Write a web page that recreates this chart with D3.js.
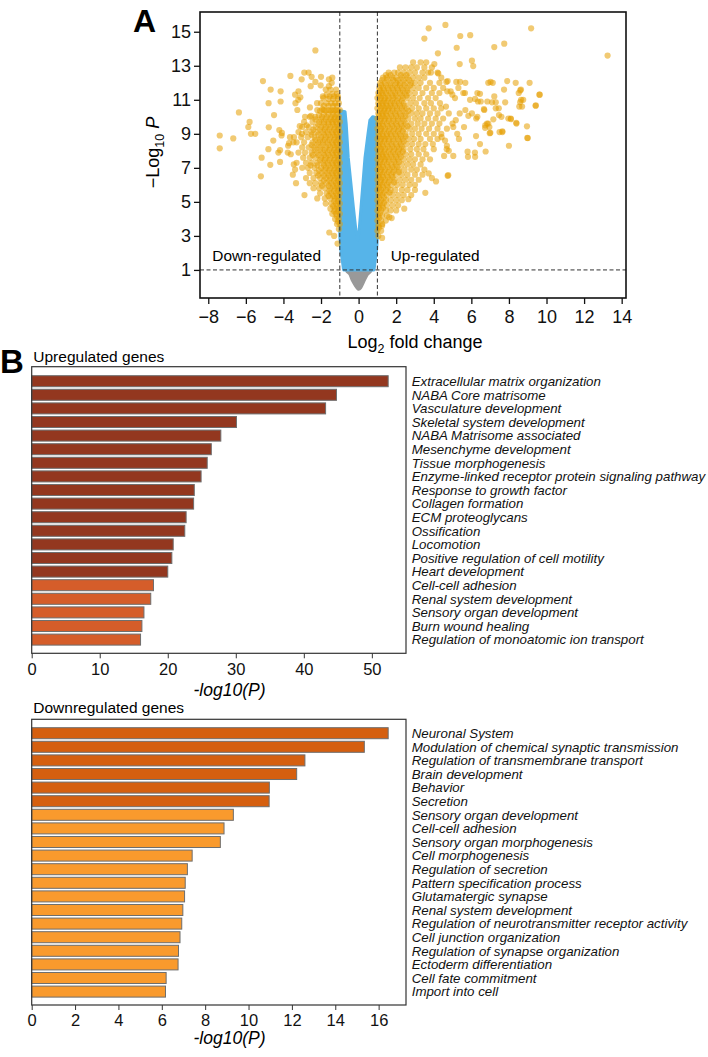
<!DOCTYPE html>
<html>
<head>
<meta charset="utf-8">
<script src="https://cdn.jsdelivr.net/npm/d3@7"></script>
<style>
  body { margin: 0; background: #fff; }
  text { font-family: "Liberation Sans", Arial, Helvetica, sans-serif; }
</style>
</head>
<body>
<svg id="main" width="708" height="1057"></svg>
<script>
// ---- panel A: volcano ----
const volXTicks = [-8, -6, -4, -2, 0, 2, 4, 6, 8, 10, 12, 14];
const volYTicks = [1, 3, 5, 7, 9, 11, 13, 15];
const fcCutoff = [-1, 1];
const pCutoff = 1;

// scattered down-regulated genes [log2FC, -log10P]
const downScatter = [
  [-2.3,13.9],[-5.09,12.1],[-3.63,12.4],[-4.68,11.6],[-4.15,11.5],[-4.15,10.9],[-4.79,10.8],[-6.37,10.26],
  [-4.5,10.1],[-5.8,9.7],[-5.87,9.4],[-5.73,9.0],[-5.5,9.0],[-7.39,8.9],[-6.67,8.73],[-7.39,8.15],
  [-4.78,9.38],[-4.22,9.22],[-4.54,8.6],[-4.1,8.9],[-4.08,9.05],[-4.27,7.9],[-4.18,7.35],[-4.18,8.04],
  [-4.7,7.18],[-5.16,7.6],[-5.2,6.5],[-4.8,8.1],[-3.47,8.5],[-3.75,8.3],[-3.7,8.45],[-3.77,7.9],
  [-3.61,7.8],[-3.45,7.2],[-3.38,6.9],[-3.33,6.1],[-3.5,6.6],[-2.88,5.4],[-2.89,12.6],[-2.66,12.6],
  [-2.5,12.35],[-3.03,12.2],[-2.0,12.35],[-1.58,12.2],[-1.4,12.3],[-1.43,12.0],[-2.02,11.85],[-1.58,11.8],
  [-3.38,11.3],[-3.21,11.0],[-3.36,10.8],[-3.2,11.5],[-3.1,11.15],[-2.59,10.55],[-2.21,10.8],[-1.88,11.1],
  [-1.7,11.3],[-1.93,10.45],[-2.53,10.05],[-2.11,10.1],[-2.85,10.0],[-3.26,10.4],[-2.76,9.5],[-3.13,9.45],
  [-3.01,9.0],[-3.65,8.8],[-3.44,8.8],[-2.55,11.8],[-2.3,12.05],[-1.56,3.2],[-1.12,2.55],[-1.3,3.0]
];
// dense down-regulated band: [-log10P, [log2FC...]]
const downRows = [
  [11.6, [-1.2, -1.5, -1.75]],
  [11.2, [-1.1, -1.3, -1.55, -1.9]],
  [10.8, [-1.05, -1.25, -1.45, -1.7, -2.0]],
  [10.4, [-1.0, -1.2, -1.4, -1.6, -1.85, -2.2]],
  [10.0, [-1.05, -1.25, -1.45, -1.7, -1.95, -2.3, -2.6]],
  [9.7, [-1.0, -1.2, -1.4, -1.6, -1.85, -2.1, -2.45, -2.9]],
  [9.4, [-1.05, -1.25, -1.5, -1.75, -2.0, -2.3, -2.65, -3.0]],
  [9.1, [-1.0, -1.2, -1.4, -1.65, -1.9, -2.2, -2.5, -2.8, -3.2]],
  [8.8, [-1.05, -1.25, -1.5, -1.75, -2.0, -2.35, -2.7, -3.05]],
  [8.5, [-1.0, -1.2, -1.4, -1.65, -1.9, -2.15, -2.45, -2.9, -3.3]],
  [8.2, [-1.05, -1.25, -1.5, -1.75, -2.05, -2.35, -2.65, -3.0]],
  [7.9, [-1.0, -1.2, -1.4, -1.65, -1.9, -2.2, -2.5, -2.85, -3.2]],
  [7.6, [-1.05, -1.25, -1.5, -1.75, -2.0, -2.3, -2.6, -2.95]],
  [7.3, [-1.0, -1.2, -1.4, -1.65, -1.9, -2.2, -2.5, -2.8, -3.3]],
  [7.0, [-1.05, -1.25, -1.5, -1.75, -2.0, -2.35, -2.7, -3.0]],
  [6.7, [-1.0, -1.2, -1.4, -1.65, -1.95, -2.25, -2.6]],
  [6.4, [-1.05, -1.25, -1.5, -1.75, -2.05, -2.4, -2.8]],
  [6.1, [-1.0, -1.2, -1.45, -1.7, -2.0, -2.3, -2.6]],
  [5.8, [-1.05, -1.25, -1.5, -1.8, -2.1, -2.4]],
  [5.5, [-1.0, -1.2, -1.45, -1.7, -2.05]],
  [5.2, [-1.05, -1.25, -1.5, -1.8, -2.2]],
  [4.9, [-1.0, -1.2, -1.45, -1.75]],
  [4.6, [-1.05, -1.25, -1.5]],
  [4.3, [-1.0, -1.2, -1.4]],
  [4.0, [-1.05, -1.25]],
  [3.7, [-1.0, -1.15]],
  [3.4, [-1.05]]
];
// core of the down band, between the rows above
const downCore = [
  [11.35, [-1.15, -1.4]],
  [11.05, [-1.1, -1.35, -1.6]],
  [10.65, [-1.15, -1.35, -1.6, -1.85]],
  [10.35, [-1.1, -1.3, -1.5, -1.75, -2.05]],
  [10.15, [-1.15, -1.35, -1.6, -1.85]],
  [9.85, [-1.1, -1.3, -1.5, -1.75, -2.0, -2.3]],
  [9.55, [-1.15, -1.35, -1.6, -1.85, -2.15]],
  [9.25, [-1.1, -1.3, -1.55, -1.8, -2.05, -2.4]],
  [8.95, [-1.15, -1.35, -1.6, -1.85, -2.15, -2.5]],
  [8.65, [-1.1, -1.3, -1.55, -1.8, -2.05, -2.3]],
  [8.35, [-1.15, -1.35, -1.6, -1.9, -2.2, -2.5]],
  [8.05, [-1.1, -1.3, -1.55, -1.8, -2.05, -2.35]],
  [7.75, [-1.15, -1.35, -1.6, -1.85, -2.15, -2.45]],
  [7.45, [-1.1, -1.3, -1.55, -1.8, -2.05]],
  [7.15, [-1.15, -1.35, -1.6, -1.85, -2.2, -2.55]],
  [6.85, [-1.1, -1.3, -1.55, -1.8, -2.1]],
  [6.55, [-1.15, -1.35, -1.6, -1.85, -2.15]],
  [6.25, [-1.1, -1.3, -1.55, -1.85]],
  [5.95, [-1.15, -1.35, -1.6, -1.95]],
  [5.65, [-1.1, -1.3, -1.55]],
  [5.35, [-1.15, -1.35, -1.6]],
  [5.05, [-1.1, -1.3]],
  [4.75, [-1.15, -1.35]],
  [4.45, [-1.1, -1.3]],
  [4.15, [-1.15]],
  [3.85, [-1.1]]
];
// scattered up-regulated genes
const upScatter = [
  [3.73,15.2],[4.62,15.4],[3.5,14.6],[5.41,14.75],[5.94,14.8],[9.18,15.2],[7.75,14.3],[7.22,14.1],
  [5.22,14.06],[4.22,13.73],[5.38,13.1],[6.03,13.3],[6.1,12.98],[4.03,13.1],[13.25,13.6],
  [4.67,12.05],[5.2,12.05],[5.68,12.0],[5.31,11.7],[4.72,11.5],[5.66,11.4],[6.32,11.4],[5.93,11.0],
  [6.2,11.05],[6.35,10.9],[4.33,10.8],[4.65,10.6],[4.99,11.3],[5.13,11.1],[5.68,10.4],[6.03,10.2],
  [6.26,9.9],[5.84,10.06],[6.67,10.45],[5.38,10.2],[5.17,9.8],[6.83,9.6],[6.73,9.35],[6.96,9.4],
  [5.61,9.4],[5.04,9.4],[5.25,9.0],[5.34,8.7],[4.6,8.6],[4.42,8.8],[6.25,8.87],[7.01,9.06],
  [7.65,9.15],[8.96,9.44],[8.98,8.76],[8.0,8.3],[8.4,9.6],[9.42,10.65],[9.62,11.3],[9.1,12.0],
  [8.6,11.55],[8.65,11.0],[8.7,10.6],[8.1,9.86],[5.82,7.65],[6.19,7.9],[6.76,7.96],[4.55,7.7],
  [4.8,8.0],[5.04,7.7],[4.7,8.3],[3.55,5.53],[4.74,6.53],[3.73,6.67],[3.9,6.4],[4.12,6.2],
  [2.65,5.16],[2.43,4.6],[1.63,4.1],[1.76,4.05],[1.25,2.88],[1.09,3.5],[1.26,3.7],
  [6.9,12.0],[7.02,12.05],[7.14,12.0],[7.91,12.1],[8.36,12.0],[7.74,11.6],[8.64,11.6],[8.52,11.4],
  [9.64,11.3],[7.22,11.2],[6.46,11.35],[7.1,10.85],[7.3,10.85],[7.8,10.85],[6.5,10.9],[8.76,11.0],
  [8.6,10.86],[8.55,10.6],[9.43,10.67],[7.3,10.5],[7.46,10.5],[6.69,10.4],[7.17,9.85],[7.47,10.1],
  [7.6,10.0],[7.97,9.9],[8.1,9.9],[8.39,9.65],[6.74,9.5],[6.9,9.6],[6.98,9.04],[7.5,9.1],
  [7.65,9.1],[9.0,8.75],[6.46,8.4],[3.85,12.6],[4.24,12.55],[4.74,12.1],[5.4,12.05],[4.9,11.5],
  [5.57,11.4],[6.85,10.9],[6.32,10.0],[5.8,7.95],[6.2,7.65],[4.77,6.57],[4.69,8.1]
];
// dense up-regulated band
const upRows = [
  [13.2, [2.9, 3.3, 3.6]],
  [12.9, [2.2, 2.5, 2.8, 3.1, 3.5, 3.9]],
  [12.6, [1.6, 1.9, 2.1, 2.4, 2.7, 3.0, 3.4, 3.7, 4.2]],
  [12.3, [1.3, 1.5, 1.8, 2.0, 2.3, 2.6, 2.9, 3.2, 3.5, 4.4]],
  [12.0, [1.15, 1.4, 1.7, 2.0, 2.2, 2.5, 2.8, 3.0, 3.3, 3.8, 4.3]],
  [11.7, [1.1, 1.3, 1.55, 1.8, 2.05, 2.3, 2.6, 2.9, 3.2, 3.6, 4.0, 4.5]],
  [11.4, [1.05, 1.25, 1.45, 1.7, 1.95, 2.2, 2.45, 2.7, 3.0, 3.4, 3.9, 4.3]],
  [11.1, [1.0, 1.2, 1.4, 1.6, 1.85, 2.1, 2.35, 2.6, 2.9, 3.25, 3.7, 4.1]],
  [10.8, [1.05, 1.25, 1.45, 1.7, 1.9, 2.15, 2.4, 2.75, 3.05, 3.5, 3.85]],
  [10.5, [1.0, 1.2, 1.4, 1.6, 1.8, 2.05, 2.3, 2.55, 2.85, 3.2, 3.6, 4.0, 4.4]],
  [10.2, [1.05, 1.25, 1.45, 1.7, 1.95, 2.2, 2.5, 2.8, 3.1, 3.4, 3.8, 4.2, 4.8]],
  [9.9, [1.0, 1.2, 1.4, 1.6, 1.85, 2.1, 2.35, 2.65, 3.0, 3.3, 3.7, 4.1, 4.5]],
  [9.6, [1.05, 1.25, 1.5, 1.75, 2.0, 2.25, 2.5, 2.8, 3.15, 3.5, 3.9, 4.3, 5.0]],
  [9.3, [1.0, 1.2, 1.4, 1.65, 1.9, 2.15, 2.4, 2.7, 3.0, 3.35, 3.75, 4.2, 4.7]],
  [9.0, [1.05, 1.25, 1.5, 1.7, 1.95, 2.2, 2.5, 2.85, 3.2, 3.6, 4.0, 4.4]],
  [8.7, [1.0, 1.2, 1.4, 1.6, 1.85, 2.1, 2.35, 2.65, 2.95, 3.3, 3.8, 4.2]],
  [8.4, [1.05, 1.25, 1.5, 1.75, 2.0, 2.25, 2.55, 2.85, 3.2, 3.55, 3.95]],
  [8.1, [1.0, 1.2, 1.4, 1.65, 1.9, 2.15, 2.4, 2.75, 3.1, 3.45, 4.0]],
  [7.8, [1.05, 1.25, 1.45, 1.7, 1.95, 2.2, 2.5, 2.8, 3.2, 3.6]],
  [7.5, [1.0, 1.2, 1.4, 1.6, 1.85, 2.1, 2.4, 2.7, 3.0, 3.4, 3.8]],
  [7.2, [1.05, 1.25, 1.5, 1.75, 2.0, 2.3, 2.6, 2.9, 3.3]],
  [6.9, [1.0, 1.2, 1.4, 1.65, 1.9, 2.15, 2.45, 2.8, 3.1, 3.5]],
  [6.6, [1.05, 1.25, 1.5, 1.75, 2.0, 2.3, 2.6, 3.0, 3.4]],
  [6.3, [1.0, 1.2, 1.4, 1.65, 1.9, 2.2, 2.5, 2.8, 3.2]],
  [6.0, [1.05, 1.25, 1.5, 1.75, 2.05, 2.35, 2.7, 3.0]],
  [5.7, [1.0, 1.2, 1.45, 1.7, 1.95, 2.3, 2.6, 3.0]],
  [5.4, [1.05, 1.25, 1.5, 1.8, 2.1, 2.4, 2.8]],
  [5.1, [1.0, 1.2, 1.45, 1.7, 2.0, 2.3]],
  [4.8, [1.05, 1.25, 1.5, 1.8, 2.1]],
  [4.5, [1.0, 1.2, 1.45, 1.7, 2.0]],
  [4.2, [1.05, 1.25, 1.5]],
  [3.9, [1.0, 1.2, 1.45]],
  [3.6, [1.05, 1.25]],
  [3.3, [1.0, 1.2]],
  [3.0, [1.05]]
];
// core of the up band, between the rows above
const upCore = [
  [12.45, [1.45, 1.7, 2.25, 2.55]],
  [12.15, [1.25, 1.55, 1.85, 2.1, 2.4, 2.7]],
  [11.85, [1.2, 1.45, 1.7, 1.95, 2.2, 2.45, 2.75]],
  [11.55, [1.15, 1.35, 1.6, 1.85, 2.1, 2.35, 2.6]],
  [11.25, [1.1, 1.3, 1.55, 1.8, 2.0, 2.3, 2.55]],
  [10.95, [1.15, 1.35, 1.55, 1.8, 2.05, 2.3]],
  [10.65, [1.1, 1.3, 1.5, 1.7, 1.95, 2.2, 2.45]],
  [10.35, [1.15, 1.35, 1.55, 1.8, 2.05, 2.35, 2.65]],
  [10.05, [1.1, 1.3, 1.5, 1.75, 2.0, 2.25, 2.5]],
  [9.75, [1.15, 1.35, 1.6, 1.85, 2.1, 2.4]],
  [9.45, [1.1, 1.3, 1.55, 1.8, 2.05, 2.3, 2.6]],
  [9.15, [1.15, 1.35, 1.6, 1.85, 2.1, 2.35]],
  [8.85, [1.1, 1.3, 1.5, 1.75, 2.0, 2.25, 2.5]],
  [8.55, [1.15, 1.35, 1.6, 1.85, 2.15, 2.4]],
  [8.25, [1.1, 1.3, 1.55, 1.8, 2.05, 2.3]],
  [7.95, [1.15, 1.35, 1.6, 1.85, 2.1, 2.35]],
  [7.65, [1.1, 1.3, 1.5, 1.75, 2.0, 2.25]],
  [7.35, [1.15, 1.35, 1.6, 1.9, 2.15]],
  [7.05, [1.1, 1.3, 1.55, 1.8, 2.05]],
  [6.75, [1.15, 1.35, 1.6, 1.85, 2.15]],
  [6.45, [1.1, 1.3, 1.55, 1.8]],
  [6.15, [1.15, 1.35, 1.6, 1.9]],
  [5.85, [1.1, 1.3, 1.55]],
  [5.55, [1.15, 1.35, 1.65]],
  [5.25, [1.1, 1.35]],
  [4.95, [1.15, 1.35]],
  [4.65, [1.1, 1.3]],
  [4.35, [1.15]],
  [4.05, [1.1]]
];
// outline of the dense "p-value only" cloud (blue) and non-significant cloud (grey)
const pOnlyOutline = [
  [-0.98, 10.35], [-0.72, 10.3], [-0.66, 9.6], [-0.55, 7.6], [-0.42, 6.2], [-0.28, 4.7],
  [-0.15, 3.4], [-0.06, 2.75], [0.02, 3.2], [0.13, 4.7], [0.24, 6.2], [0.34, 7.6],
  [0.5, 9.0], [0.6, 9.8], [0.75, 10.0], [0.96, 9.95], [1.0, 8.0], [1.0, 3.0],
  [0.96, 2.2], [0.88, 1.5], [0.82, 1.0], [-0.8, 1.0], [-0.86, 1.5], [-0.95, 2.2],
  [-1.0, 3.0], [-1.0, 8.0]
];
const nsOutline = [
  [-0.6, 1.0], [-0.47, 0.7], [-0.37, 0.4], [-0.2, 0.08], [-0.04, -0.15], [0.12, -0.08],
  [0.34, 0.4], [0.48, 0.7], [0.62, 1.0]
];

// ---- panel B: enrichment bars ----
const upTerms = [
  "Extracellular matrix organization", "NABA Core matrisome", "Vasculature development",
  "Skeletal system development", "NABA Matrisome associated", "Mesenchyme development",
  "Tissue morphogenesis", "Enzyme-linked receptor protein signaling pathway",
  "Response to growth factor", "Collagen formation", "ECM proteoglycans", "Ossification",
  "Locomotion", "Positive regulation of cell motility", "Heart development",
  "Cell-cell adhesion", "Renal system development", "Sensory organ development",
  "Burn wound healing", "Regulation of monoatomic ion transport"
];
const upLogP = [52.4, 44.8, 43.2, 30.1, 27.8, 26.4, 25.8, 24.9, 23.9, 23.8,
  22.7, 22.5, 20.8, 20.6, 20.0, 17.9, 17.5, 16.5, 16.2, 16.0];
const upTier = [1, 1, 1, 1, 1, 1, 1, 1, 1, 1, 1, 1, 1, 1, 1, 2, 2, 2, 2, 2];
const upTicks = [0, 10, 20, 30, 40, 50];

const downTerms = [
  "Neuronal System", "Modulation of chemical synaptic transmission",
  "Regulation of transmembrane transport", "Brain development", "Behavior", "Secretion",
  "Sensory organ development", "Cell-cell adhesion", "Sensory organ morphogenesis",
  "Cell morphogenesis", "Regulation of secretion", "Pattern specification process",
  "Glutamatergic synapse", "Renal system development",
  "Regulation of neurotransmitter receptor activity", "Cell junction organization",
  "Regulation of synapse organization", "Ectoderm differentiation", "Cell fate commitment",
  "Import into cell"
];
const downLogP = [16.44, 15.34, 12.6, 12.22, 10.96, 10.95, 9.3, 8.87, 8.7, 7.4,
  7.18, 7.08, 7.05, 6.97, 6.92, 6.84, 6.77, 6.75, 6.2, 6.17];
const downTier = [1, 1, 1, 1, 1, 1, 2, 2, 2, 2, 2, 2, 2, 2, 2, 2, 2, 2, 2, 2];
const downTicks = [0, 2, 4, 6, 8, 10, 12, 14, 16];

const svg = d3.select("#main");

// ---------- volcano ----------
const vx = d3.scaleLinear().domain([-8.44, 14.23]).range([200, 626]);
const vy = d3.scaleLinear().domain([-0.65, 16.16]).range([298, 12]);
const outline = d3.line().x(d => vx(d[0])).y(d => vy(d[1]));

svg.append("path")
  .attr("d", outline.curve(d3.curveCardinalClosed)(nsOutline))
  .attr("fill", "#999999").attr("stroke", "#999999").attr("stroke-width", 2);

svg.append("path")
  .attr("d", outline.curve(d3.curveLinearClosed)(pOnlyOutline))
  .attr("fill", "#56B4E9").attr("stroke", "#56B4E9")
  .attr("stroke-width", 3).attr("stroke-linejoin", "round");

const expand = rows => rows.flatMap(([y, xs]) => xs.map(x => [x, y]));
const sigPoints = [
  ...expand(downRows), ...expand(downCore), ...downScatter,
  ...expand(upRows), ...expand(upCore), ...upScatter
];

svg.append("g").selectAll("circle")
  .data(sigPoints)
  .join("circle")
  .attr("cx", d => vx(d[0]))
  .attr("cy", d => vy(d[1]))
  .attr("r", 3.1)
  .attr("fill", "#E69F00")
  .attr("fill-opacity", 0.55);

// cutoff lines
svg.append("g").selectAll("line")
  .data(fcCutoff)
  .join("line")
  .attr("x1", d => vx(d)).attr("x2", d => vx(d))
  .attr("y1", vy.range()[1]).attr("y2", vy.range()[0])
  .attr("stroke", "#333").attr("stroke-dasharray", "4,2.5");
svg.append("line")
  .attr("x1", vx.range()[0]).attr("x2", vx.range()[1])
  .attr("y1", vy(pCutoff)).attr("y2", vy(pCutoff))
  .attr("stroke", "#333").attr("stroke-dasharray", "4,2.5");

svg.append("rect")
  .attr("x", 200).attr("y", 12).attr("width", 426).attr("height", 286)
  .attr("fill", "none").attr("stroke", "#111").attr("stroke-width", 1.6);

const vxAxis = svg.append("g").attr("transform", "translate(0,298)")
  .call(d3.axisBottom(vx).tickValues(volXTicks).tickSize(6).tickPadding(6));
const vyAxis = svg.append("g").attr("transform", "translate(200,0)")
  .call(d3.axisLeft(vy).tickValues(volYTicks).tickSize(6).tickPadding(3));
[vxAxis, vyAxis].forEach(g => {
  g.select(".domain").remove();
  g.selectAll("line").attr("stroke", "#111").attr("stroke-width", 1.3);
  g.selectAll("text").attr("font-size", 18).attr("fill", "#111")
    .style("font-family", "'Liberation Sans', Arial, sans-serif");
});

svg.append("text").attr("x", 212.3).attr("y", 261).attr("font-size", 15.4)
  .text("Down-regulated");
svg.append("text").attr("x", 390.7).attr("y", 261).attr("font-size", 15.4)
  .text("Up-regulated");

const xl = svg.append("text").attr("x", 415).attr("y", 348)
  .attr("text-anchor", "middle").attr("font-size", 18);
xl.append("tspan").text("Log");
xl.append("tspan").attr("font-size", 12.5).attr("dy", 5).text("2");
xl.append("tspan").attr("dy", -5).text(" fold change");

const yl = svg.append("text").attr("transform", "translate(159,152.5) rotate(-90)")
  .attr("text-anchor", "middle").attr("font-size", 18);
yl.append("tspan").text("\u2212Log");
yl.append("tspan").attr("font-size", 12.5).attr("dy", 5).text("10");
yl.append("tspan").attr("dy", -5).text(" ");
yl.append("tspan").attr("font-style", "italic").text("P");

svg.append("text").attr("x", 133).attr("y", 32.3)
  .attr("font-size", 32).attr("font-weight", "bold").text("A");
svg.append("text").attr("x", 0).attr("y", 372.7)
  .attr("font-size", 33).attr("font-weight", "bold").text("B");

// ---------- bar panels ----------
function barPanel(terms, values, tiers, ticks, colors, top, bottom, barStart, title, titleY, xTitleY) {
  const left = 31.7, right = 406;
  const x = d3.scaleLinear().domain([0, d3.max(values) * 1.05]).range([left, right]);
  const y = d3.scaleBand().domain(terms)
    .range([barStart, barStart + terms.length * 13.6])
    .paddingInner(0.19).paddingOuter(0.095);

  const g = svg.append("g");
  g.selectAll("rect.bar")
    .data(terms)
    .join("rect")
    .attr("class", "bar")
    .attr("x", x(0))
    .attr("y", d => y(d))
    .attr("width", (d, i) => x(values[i]) - x(0))
    .attr("height", y.bandwidth())
    .attr("fill", (d, i) => colors[tiers[i] - 1])
    .attr("stroke", "#6e6e6e").attr("stroke-width", 1);

  g.append("rect")
    .attr("x", left).attr("y", top).attr("width", right - left).attr("height", bottom - top)
    .attr("fill", "none").attr("stroke", "#333").attr("stroke-width", 1.2);

  const ax = g.append("g").attr("transform", `translate(0,${bottom})`)
    .call(d3.axisBottom(x).tickValues(ticks).tickSize(5).tickPadding(4.5).tickFormat(d3.format("d")));
  ax.select(".domain").remove();
  ax.selectAll("line").attr("stroke", "#333");
  ax.selectAll("text").attr("font-size", 16.5).attr("fill", "#111")
    .style("font-family", "'Liberation Sans', Arial, sans-serif");

  g.selectAll("text.term")
    .data(terms)
    .join("text")
    .attr("class", "term")
    .attr("x", 411.7)
    .attr("y", d => y(d) + y.bandwidth() / 2)
    .attr("dy", "0.36em")
    .attr("font-size", 13.3)
    .attr("font-style", "italic")
    .attr("fill", "#111")
    .text(d => d);

  g.append("text").attr("x", 33.3).attr("y", titleY).attr("font-size", 15.5).text(title);
  g.append("text").attr("x", 229.5).attr("y", xTitleY).attr("text-anchor", "middle")
    .attr("font-size", 17.5).attr("font-style", "italic").text("-log10(P)");
}

barPanel(upTerms, upLogP, upTier, upTicks, ["#93371f", "#d55d2a"],
  366.7, 653.3, 374.4, "Upregulated genes", 361.7, 695.5);
barPanel(downTerms, downLogP, downTier, downTicks, ["#d55f0f", "#f99a2d"],
  719.3, 1005, 726.4, "Downregulated genes", 713.3, 1043.5);
</script>
</body>
</html>
